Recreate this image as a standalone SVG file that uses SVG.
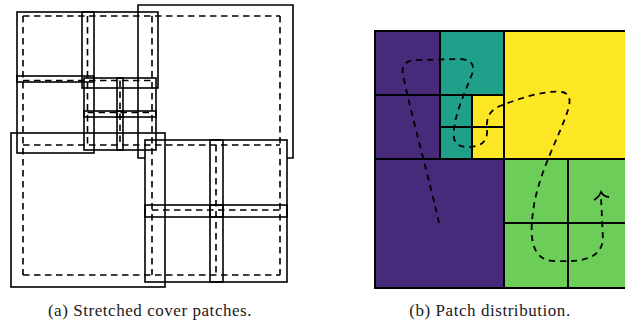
<svg xmlns="http://www.w3.org/2000/svg" width="625" height="327" viewBox="0 0 625 327">
<style>
.s{fill:none;stroke:#000;stroke-width:1.6}
.d{fill:none;stroke:#000;stroke-width:1.6;stroke-dasharray:6.5 4.5}
.g{stroke:#000;stroke-width:2}
.pu{fill:#472a7a}.te{fill:#20a08a}.ye{fill:#fde725}.gr{fill:#6dcd59}
.cap{font-family:"Liberation Serif","DejaVu Serif",serif;font-size:17px;letter-spacing:0.55px;fill:#1a1a1a}
.c{fill:none;stroke:#000;stroke-width:1.8;stroke-dasharray:6 5;stroke-linecap:butt}
</style>
<rect width="625" height="327" fill="#fff"/>
<!-- (a) stretched cover patches -->
<g id="a-patches">
<g id="pA"><rect class="s" x="17" y="12" width="77" height="70"/></g>
<g id="pB"><rect class="s" x="82" y="12" width="76" height="76"/></g>
<g id="pC"><rect class="s" x="17" y="76" width="77" height="77"/></g>
<g id="pD1"><rect class="s" x="84" y="78" width="39" height="39"/></g>
<g id="pD2"><rect class="s" x="117" y="78" width="39" height="39"/></g>
<g id="pD3"><rect class="s" x="84" y="111" width="39" height="39"/></g>
<g id="pD4"><rect class="s" x="117" y="111" width="39" height="39"/></g>
<g id="pE"><path class="s" d="M145 158 H138 V5 H293 V158 H287"/></g>
<g id="pF"><rect class="s" x="11" y="133" width="154" height="154"/></g>
<g id="pG"><rect class="s" x="145" y="140" width="78" height="77"/></g>
<g id="pH"><rect class="s" x="210" y="140" width="77" height="77"/></g>
<g id="pI"><rect class="s" x="145" y="205" width="78" height="77"/></g>
<g id="pJ"><rect class="s" x="210" y="205" width="77" height="77"/></g>
</g>
<g id="a-cells">
<path class="d" d="M23 16 H280 M23 80.5 H152 M87.5 112.5 H152 M23 145 H280 M152 210 H280 M23 275 H280"/>
<path class="d" d="M23 16 V275 M87.5 16 V145 M120 80.5 V145 M152 16 V275 M216 145 V275 M280 16 V275"/>
</g>
<!-- (b) patch distribution -->
<g id="b-grid">
<rect class="pu" x="375" y="31" width="65" height="128"/>
<rect class="te" x="440" y="31" width="64" height="64"/>
<rect class="te" x="440" y="95" width="32" height="64"/>
<rect class="ye" x="472" y="95" width="32" height="64"/>
<rect class="ye" x="504" y="31" width="128" height="128"/>
<rect class="pu" x="375" y="159" width="129" height="129"/>
<rect class="gr" x="504" y="159" width="128" height="129"/>
<g class="g">
<rect x="375" y="31" width="257" height="257" fill="none"/>
<path d="M375 95 H504 M440 31 V159 M472 95 V159 M440 127 H504 M375 159 H632 M504 31 V288 M568 159 V288 M504 223 H632"/>
</g>
</g>
<g id="connectors">
<path class="c" d="M439 223 C432 190,410 110,403 75 Q400 60,418 60 L460 59 Q477 60,472 74 C464 95,452 120,454 138 Q456 148,470 147 Q488 146,487 130 Q485 112,500 106 C520 98,545 90,562 92 Q573 94,568 110 C560 135,540 170,534 205 C530 230,528 261,555 261 C580 262,600 260,603 240 L601 197"/>
<path fill="none" stroke="#000" stroke-width="1.8" d="M594 200 Q599 197 601 192 Q604 197 609 197"/>
</g>
<text class="cap" x="150" y="316" text-anchor="middle">(a) Stretched cover patches.</text>
<text class="cap" x="490" y="316" text-anchor="middle">(b) Patch distribution.</text>
</svg>
